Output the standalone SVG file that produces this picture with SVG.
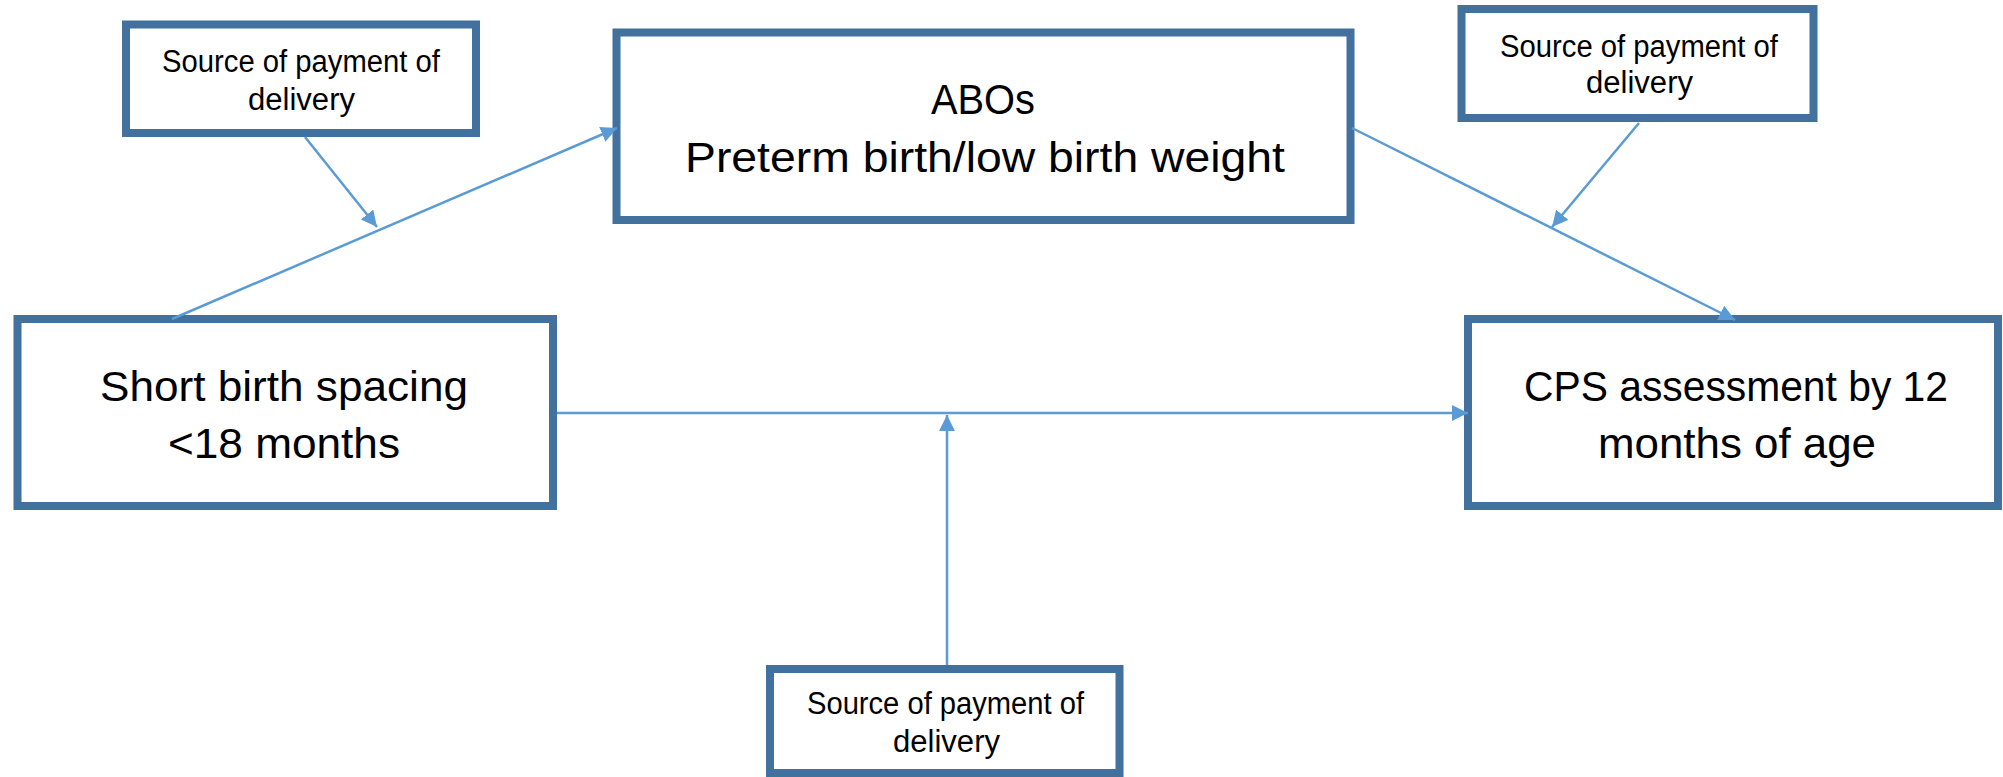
<svg xmlns="http://www.w3.org/2000/svg" width="2003" height="777" viewBox="0 0 2003 777">
<style>
.box{fill:#ffffff;stroke:#41719C;stroke-width:8}
.t{font-family:"Liberation Sans",Arial,sans-serif;fill:#000000}
.big{font-size:42px}
.small{font-size:31px}
.conn{stroke:#5B9BD5;stroke-width:2.5;fill:none;marker-end:url(#ah)}
</style>
<defs>
<marker id="ah" markerUnits="userSpaceOnUse" markerWidth="18" markerHeight="16" refX="16" refY="8" orient="auto">
<path d="M0,0 L16,8 L0,16 Z" fill="#5B9BD5"/>
</marker>
</defs>
<rect width="2003" height="777" fill="#ffffff"/>
<g id="src-top-left">
<rect class="box" x="126" y="24.5" width="350" height="108.5"/>
<text class="t small" x="162" y="72" textLength="278" lengthAdjust="spacingAndGlyphs">Source of payment of</text>
<text class="t small" x="248" y="110" textLength="107" lengthAdjust="spacingAndGlyphs">delivery</text>
</g>
<g id="abos">
<rect class="box" x="616.5" y="32.5" width="734" height="187.5"/>
<text class="t big" x="931" y="114" textLength="104" lengthAdjust="spacingAndGlyphs">ABOs</text>
<text class="t big" x="685" y="172" textLength="600" lengthAdjust="spacingAndGlyphs">Preterm birth/low birth weight</text>
</g>
<g id="src-top-right">
<rect class="box" x="1461.5" y="9" width="352" height="109"/>
<text class="t small" x="1500" y="57" textLength="278" lengthAdjust="spacingAndGlyphs">Source of payment of</text>
<text class="t small" x="1586" y="93" textLength="107" lengthAdjust="spacingAndGlyphs">delivery</text>
</g>
<g id="short-spacing">
<rect class="box" x="17.5" y="319" width="535.5" height="187"/>
<text class="t big" x="100" y="401" textLength="368" lengthAdjust="spacingAndGlyphs">Short birth spacing</text>
<text class="t big" x="168" y="458" textLength="232" lengthAdjust="spacingAndGlyphs">&lt;18 months</text>
</g>
<g id="cps">
<rect class="box" x="1468" y="319" width="530" height="187"/>
<text class="t big" x="1524" y="401" textLength="424" lengthAdjust="spacingAndGlyphs">CPS assessment by 12</text>
<text class="t big" x="1598" y="458" textLength="278" lengthAdjust="spacingAndGlyphs">months of age</text>
</g>
<g id="src-bottom">
<rect class="box" x="770" y="669" width="349.5" height="104"/>
<text class="t small" x="807" y="714" textLength="277" lengthAdjust="spacingAndGlyphs">Source of payment of</text>
<text class="t small" x="893" y="752" textLength="107" lengthAdjust="spacingAndGlyphs">delivery</text>
</g>
<g id="connectors">
<line class="conn" x1="172" y1="319" x2="617" y2="128"/>
<line class="conn" x1="305" y1="137" x2="377" y2="227"/>
<line class="conn" x1="1352" y1="128" x2="1735" y2="320"/>
<line class="conn" x1="1639" y1="123" x2="1552" y2="227"/>
<line class="conn" x1="557" y1="413" x2="1468" y2="413"/>
<line class="conn" x1="947" y1="665" x2="947" y2="415"/>
</g>
</svg>
